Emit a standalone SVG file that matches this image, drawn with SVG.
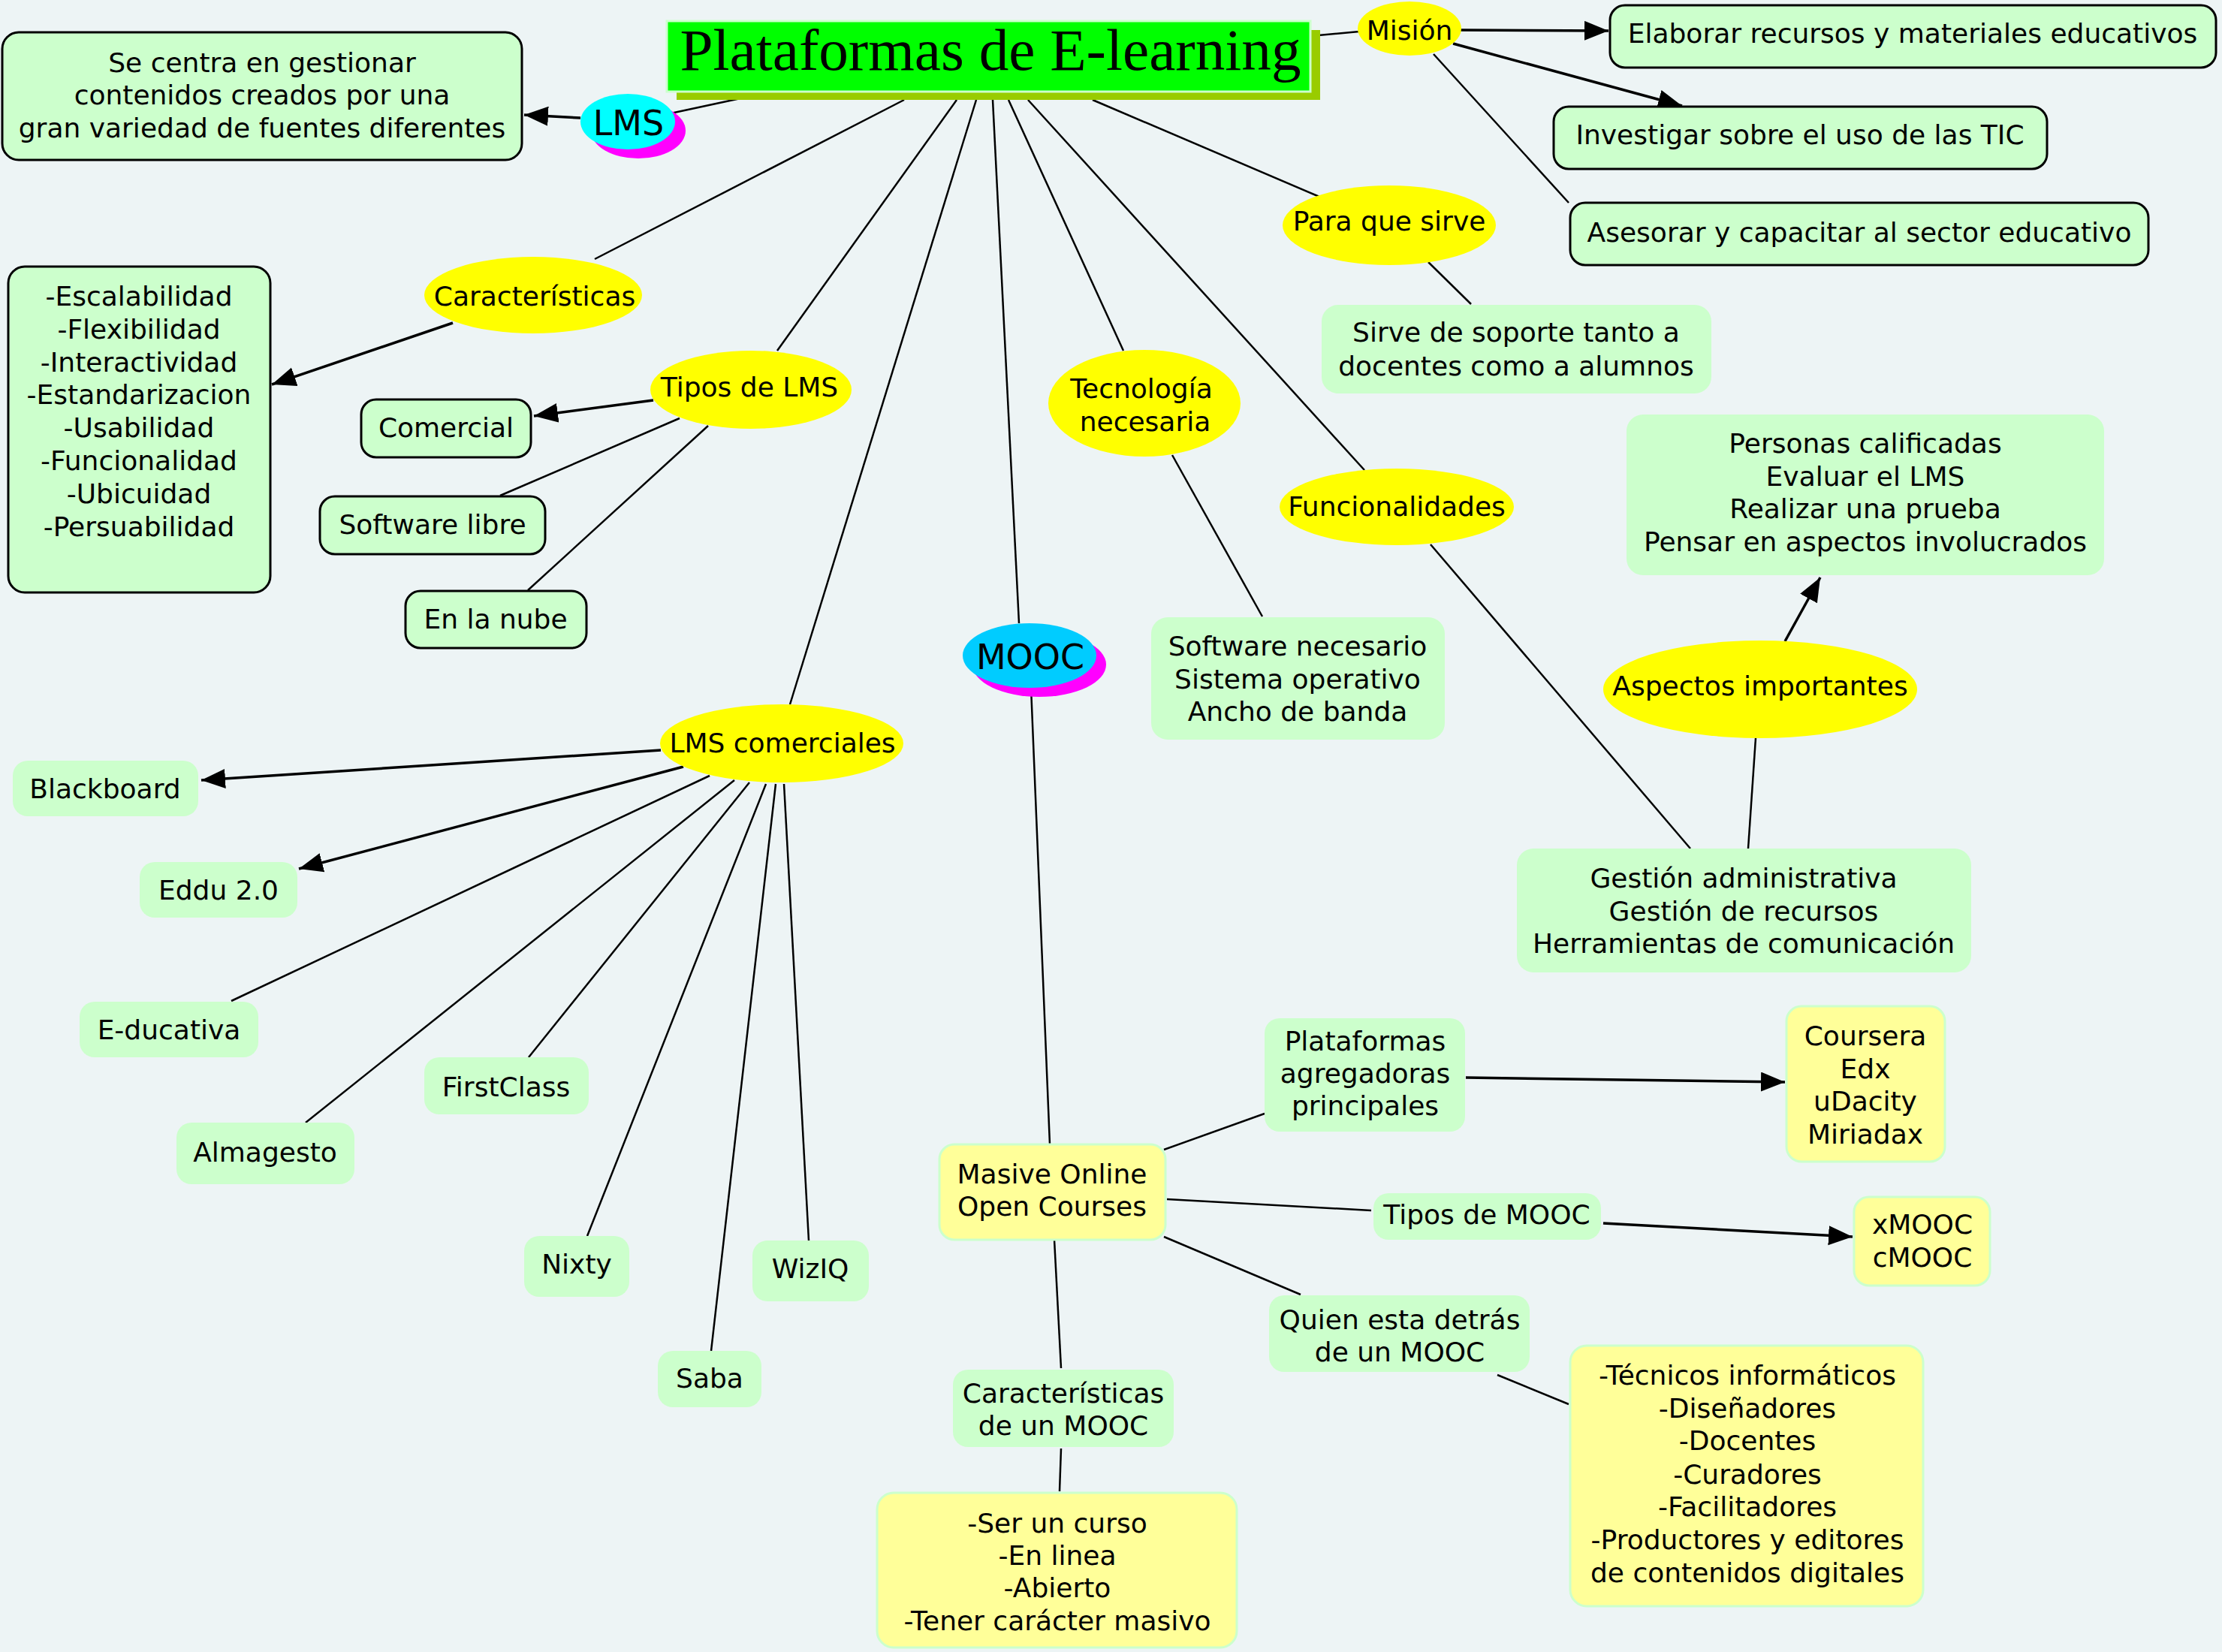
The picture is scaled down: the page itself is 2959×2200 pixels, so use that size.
<svg xmlns="http://www.w3.org/2000/svg" width="2959" height="2200" viewBox="0 0 2959 2200">
<defs>
<style>
.t{font-family:"DejaVu Sans",Verdana,sans-serif;font-size:36px;fill:#000;text-anchor:middle}
.big{font-size:46px}
.ln{stroke:#000;stroke-width:2.5;fill:none}
.ar{stroke:#000;stroke-width:3.5;fill:none;marker-end:url(#ah)}
.gb{fill:#ccffcc;stroke:#000;stroke-width:3}
.g{fill:#ccffcc}
.y{fill:#ffff99;stroke:#ccffcc;stroke-width:3}
.ye{fill:#ffff00}
</style>
<marker id="ah" markerUnits="userSpaceOnUse" markerWidth="34" markerHeight="28" refX="32" refY="13" orient="auto">
<path d="M0,0 L32,13 L0,26 z" fill="#000"/>
</marker>
</defs>
<rect x="0" y="0" width="2959" height="2200" fill="#edf4f5"/>

<g id="connectors">
<line class="ln" x1="893" y1="151" x2="1000" y2="128"/>
<line class="ln" x1="1204" y1="133" x2="792" y2="345"/>
<line class="ln" x1="1274" y1="133" x2="1035" y2="467"/>
<line class="ln" x1="1300" y1="133" x2="1052" y2="938"/>
<line class="ln" x1="1322" y1="133" x2="1357" y2="830"/>
<line class="ln" x1="1343" y1="133" x2="1496" y2="467"/>
<line class="ln" x1="1369" y1="133" x2="1817" y2="626"/>
<line class="ln" x1="1455" y1="133" x2="1757" y2="262"/>
<line class="ln" x1="1745" y1="48" x2="1810" y2="42"/>
<line class="ar" x1="1945" y1="40" x2="2142" y2="41"/>
<line class="ar" x1="1935" y1="58" x2="2240" y2="141"/>
<line class="ln" x1="1909" y1="72" x2="2089" y2="270"/>
<line class="ar" x1="773" y1="157" x2="698" y2="153"/>
<line class="ar" x1="603" y1="430" x2="362" y2="512"/>
<line class="ar" x1="870" y1="533" x2="711" y2="554"/>
<line class="ln" x1="905" y1="557" x2="666" y2="660"/>
<line class="ln" x1="943" y1="567" x2="703" y2="786"/>
<line class="ln" x1="1902" y1="349" x2="1959" y2="405"/>
<line class="ln" x1="1561" y1="606" x2="1681" y2="821"/>
<line class="ln" x1="1905" y1="725" x2="2251" y2="1130"/>
<line class="ar" x1="2377" y1="854" x2="2424" y2="769"/>
<line class="ln" x1="2328" y1="1130" x2="2338" y2="983"/>
<line class="ar" x1="880" y1="999" x2="268" y2="1039"/>
<line class="ar" x1="910" y1="1021" x2="398" y2="1157"/>
<line class="ln" x1="945" y1="1033" x2="308" y2="1333"/>
<line class="ln" x1="978" y1="1039" x2="407" y2="1495"/>
<line class="ln" x1="998" y1="1042" x2="704" y2="1408"/>
<line class="ln" x1="1020" y1="1044" x2="782" y2="1646"/>
<line class="ln" x1="1033" y1="1044" x2="947" y2="1799"/>
<line class="ln" x1="1044" y1="1044" x2="1077" y2="1652"/>
<line class="ln" x1="1373" y1="916" x2="1398" y2="1524"/>
<line class="ln" x1="1550" y1="1531" x2="1684" y2="1483"/>
<line class="ar" x1="1952" y1="1435" x2="2377" y2="1441"/>
<line class="ln" x1="1554" y1="1597" x2="1826" y2="1612"/>
<line class="ar" x1="2135" y1="1629" x2="2467" y2="1647"/>
<line class="ln" x1="1550" y1="1647" x2="1732" y2="1724"/>
<line class="ln" x1="1994" y1="1831" x2="2089" y2="1870"/>
<line class="ln" x1="1404" y1="1651" x2="1413" y2="1822"/>
<line class="ln" x1="1413" y1="1929" x2="1411" y2="1986"/>
</g>

<g id="title">
<rect x="901" y="40" width="857" height="93" fill="#99cc00"/>
<rect x="888" y="28" width="857" height="94" fill="#00ff00" stroke="#ccffcc" stroke-width="3"/>
<text x="1319" y="93" font-family="'Liberation Serif','Times New Roman',serif" font-size="78" text-anchor="middle" textLength="827" lengthAdjust="spacingAndGlyphs">Plataformas de E-learning</text>
</g>

<g id="lms">
<ellipse cx="850" cy="174" rx="63" ry="37" fill="#ff00ff"/>
<ellipse cx="836" cy="162" rx="63" ry="37" fill="#00ffff"/>
<text class="t big" x="837" y="180">LMS</text>
</g>
<g id="lms-desc">
<rect class="gb" x="3" y="43" width="692" height="170" rx="22"/>
<text class="t"><tspan x="349" y="96">Se centra en gestionar</tspan><tspan x="349" y="139">contenidos creados por una</tspan><tspan x="349" y="183">gran variedad de fuentes diferentes</tspan></text>
</g>

<g id="mision">
<ellipse class="ye" cx="1877" cy="38" rx="69" ry="36"/>
<text class="t" x="1877" y="53">Misión</text>
</g>
<g id="elaborar">
<rect class="gb" x="2144" y="7" width="807" height="83" rx="20"/>
<text class="t" x="2547" y="57">Elaborar recursos y materiales educativos</text>
</g>
<g id="investigar">
<rect class="gb" x="2069" y="142" width="657" height="83" rx="20"/>
<text class="t" x="2397" y="192">Investigar sobre el uso de las TIC</text>
</g>
<g id="asesorar">
<rect class="gb" x="2091" y="270" width="770" height="83" rx="20"/>
<text class="t" x="2476" y="322">Asesorar y capacitar al sector educativo</text>
</g>

<g id="caracteristicas">
<ellipse class="ye" cx="710" cy="393" rx="145" ry="51"/>
<text class="t" x="712" y="407">Características</text>
</g>
<g id="escalabilidad">
<rect class="gb" x="11" y="355" width="349" height="434" rx="22"/>
<text class="t"><tspan x="185" y="407">-Escalabilidad</tspan><tspan x="185" y="451">-Flexibilidad</tspan><tspan x="185" y="495">-Interactividad</tspan><tspan x="185" y="538">-Estandarizacion</tspan><tspan x="185" y="582">-Usabilidad</tspan><tspan x="185" y="626">-Funcionalidad</tspan><tspan x="185" y="670">-Ubicuidad</tspan><tspan x="185" y="714">-Persuabilidad</tspan></text>
</g>

<g id="tipos-lms">
<ellipse class="ye" cx="1000" cy="519" rx="134" ry="52"/>
<text class="t" x="998" y="528">Tipos de LMS</text>
</g>
<g id="comercial">
<rect class="gb" x="481" y="532" width="226" height="77" rx="20"/>
<text class="t" x="594" y="582">Comercial</text>
</g>
<g id="software-libre">
<rect class="gb" x="426" y="661" width="300" height="77" rx="20"/>
<text class="t" x="576" y="711">Software libre</text>
</g>
<g id="nube">
<rect class="gb" x="540" y="787" width="241" height="76" rx="20"/>
<text class="t" x="660" y="837">En la nube</text>
</g>

<g id="para-que">
<ellipse class="ye" cx="1850" cy="300" rx="142" ry="53"/>
<text class="t" x="1850" y="307">Para que sirve</text>
</g>
<g id="sirve">
<rect class="g" x="1760" y="406" width="519" height="118" rx="22"/>
<text class="t"><tspan x="2019" y="455">Sirve de soporte tanto a</tspan><tspan x="2019" y="500">docentes como a alumnos</tspan></text>
</g>

<g id="tecnologia">
<ellipse class="ye" cx="1524" cy="537" rx="128" ry="71"/>
<text class="t"><tspan x="1520" y="530">Tecnología</tspan><tspan x="1525" y="574">necesaria</tspan></text>
</g>
<g id="software-necesario">
<rect class="g" x="1533" y="822" width="391" height="163" rx="22"/>
<text class="t"><tspan x="1728" y="873">Software necesario</tspan><tspan x="1728" y="917">Sistema operativo</tspan><tspan x="1728" y="960">Ancho de banda</tspan></text>
</g>

<g id="funcionalidades">
<ellipse class="ye" cx="1860" cy="675" rx="156" ry="51"/>
<text class="t" x="1860" y="687">Funcionalidades</text>
</g>
<g id="personas">
<rect class="g" x="2166" y="552" width="636" height="214" rx="22"/>
<text class="t"><tspan x="2484" y="603">Personas calificadas</tspan><tspan x="2484" y="647">Evaluar el LMS</tspan><tspan x="2484" y="690">Realizar una prueba</tspan><tspan x="2484" y="734">Pensar en aspectos involucrados</tspan></text>
</g>
<g id="aspectos">
<ellipse class="ye" cx="2344" cy="918" rx="209" ry="65"/>
<text class="t" x="2344" y="926">Aspectos importantes</text>
</g>
<g id="gestion">
<rect class="g" x="2020" y="1130" width="605" height="165" rx="22"/>
<text class="t"><tspan x="2322" y="1182">Gestión administrativa</tspan><tspan x="2322" y="1226">Gestión de recursos</tspan><tspan x="2322" y="1269">Herramientas de comunicación</tspan></text>
</g>

<g id="lms-comerciales">
<ellipse class="ye" cx="1041" cy="990" rx="162" ry="52"/>
<text class="t" x="1042" y="1002">LMS comerciales</text>
</g>
<g id="blackboard"><rect class="g" x="17" y="1013" width="247" height="74" rx="20"/><text class="t" x="140" y="1063">Blackboard</text></g>
<g id="eddu"><rect class="g" x="186" y="1148" width="210" height="74" rx="20"/><text class="t" x="291" y="1198">Eddu 2.0</text></g>
<g id="educativa"><rect class="g" x="106" y="1334" width="238" height="74" rx="20"/><text class="t" x="225" y="1384">E-ducativa</text></g>
<g id="firstclass"><rect class="g" x="565" y="1408" width="219" height="76" rx="20"/><text class="t" x="674" y="1460">FirstClass</text></g>
<g id="almagesto"><rect class="g" x="235" y="1495" width="237" height="82" rx="20"/><text class="t" x="353" y="1547">Almagesto</text></g>
<g id="nixty"><rect class="g" x="698" y="1646" width="140" height="81" rx="20"/><text class="t" x="768" y="1696">Nixty</text></g>
<g id="wiziq"><rect class="g" x="1002" y="1652" width="155" height="81" rx="20"/><text class="t" x="1079" y="1702">WizIQ</text></g>
<g id="saba"><rect class="g" x="876" y="1799" width="138" height="75" rx="20"/><text class="t" x="945" y="1848">Saba</text></g>

<g id="mooc">
<ellipse cx="1384" cy="885" rx="89" ry="43" fill="#ff00ff"/>
<ellipse cx="1371" cy="873" rx="89" ry="43" fill="#00ccff"/>
<text class="t big" x="1372" y="891">MOOC</text>
</g>
<g id="masive">
<rect class="y" x="1251" y="1524" width="301" height="127" rx="20"/>
<text class="t"><tspan x="1401" y="1576">Masive Online</tspan><tspan x="1401" y="1619">Open Courses</tspan></text>
</g>
<g id="plataformas">
<rect class="g" x="1684" y="1356" width="267" height="151" rx="20"/>
<text class="t"><tspan x="1818" y="1399">Plataformas</tspan><tspan x="1818" y="1442">agregadoras</tspan><tspan x="1818" y="1485">principales</tspan></text>
</g>
<g id="coursera">
<rect class="y" x="2379" y="1340" width="211" height="207" rx="20"/>
<text class="t"><tspan x="2484" y="1392">Coursera</tspan><tspan x="2484" y="1436">Edx</tspan><tspan x="2484" y="1479">uDacity</tspan><tspan x="2484" y="1523">Miriadax</tspan></text>
</g>
<g id="tipos-mooc">
<rect class="g" x="1829" y="1589" width="303" height="62" rx="20"/>
<text class="t" x="1980" y="1630">Tipos de MOOC</text>
</g>
<g id="xmooc">
<rect class="y" x="2469" y="1594" width="181" height="118" rx="20"/>
<text class="t"><tspan x="2560" y="1643">xMOOC</tspan><tspan x="2560" y="1687">cMOOC</tspan></text>
</g>
<g id="quien">
<rect class="g" x="1690" y="1725" width="347" height="102" rx="20"/>
<text class="t"><tspan x="1864" y="1770">Quien esta detrás</tspan><tspan x="1864" y="1813">de un MOOC</tspan></text>
</g>
<g id="tecnicos">
<rect class="y" x="2091" y="1792" width="470" height="347" rx="22"/>
<text class="t"><tspan x="2327" y="1844">-Técnicos informáticos</tspan><tspan x="2327" y="1888">-Diseñadores</tspan><tspan x="2327" y="1931">-Docentes</tspan><tspan x="2327" y="1976">-Curadores</tspan><tspan x="2327" y="2019">-Facilitadores</tspan><tspan x="2327" y="2063">-Productores y editores</tspan><tspan x="2327" y="2107">de contenidos digitales</tspan></text>
</g>
<g id="caract-mooc">
<rect class="g" x="1269" y="1824" width="294" height="103" rx="20"/>
<text class="t"><tspan x="1416" y="1868">Características</tspan><tspan x="1416" y="1911">de un MOOC</tspan></text>
</g>
<g id="ser-curso">
<rect class="y" x="1168" y="1988" width="479" height="206" rx="22"/>
<text class="t"><tspan x="1408" y="2041">-Ser un curso</tspan><tspan x="1408" y="2084">-En linea</tspan><tspan x="1408" y="2127">-Abierto</tspan><tspan x="1408" y="2171">-Tener carácter masivo</tspan></text>
</g>
</svg>
